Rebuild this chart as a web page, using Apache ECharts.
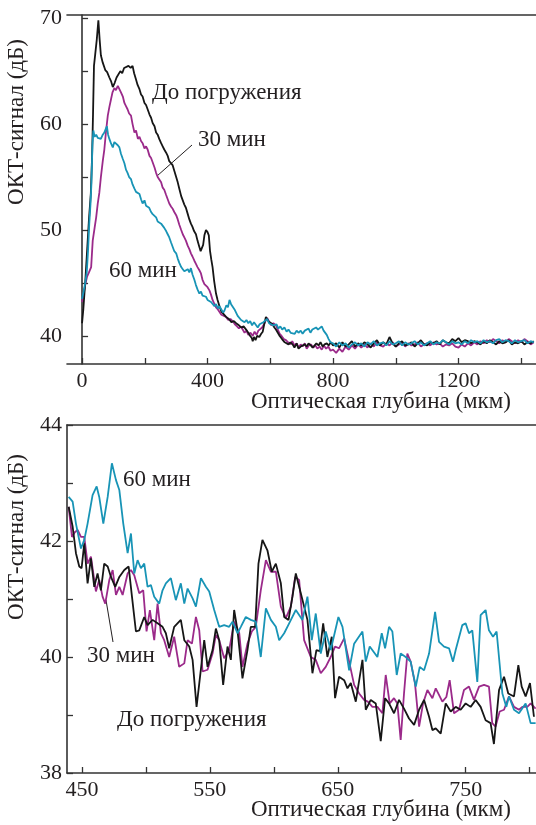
<!DOCTYPE html>
<html>
<head>
<meta charset="utf-8">
<script src="https://cdn.jsdelivr.net/npm/echarts@6/dist/echarts.min.js"></script>
<style>
  html, body { margin: 0; padding: 0; background: #fff; }
  #chart { width: 536px; height: 825px; }
</style>
</head>
<body>
<div id="chart"></div>
<script>
// --- top panel: full depth profile, [depth µm, dB] ---
const topBlackHead = [[0,41.2],[4,42.5],[10,45],[16,48],[22,51],[28,53.5],[32,57],[35,61],[38,65.5],[42,66.6],[47,68],[52,69.8],[56,68],[60,66.5],[66,65.8],[74,65.1],[80,64.9],[87,64.4],[93,64.0],[98,63.5],[104,63.9],[110,64.4],[116,64.5],[122,65.0],[128,64.8],[134,65.3],[140,65.2],[148,65.5],[155,65.3],[161,65.5],[166,64.8],[172,64.2],[177,63.7],[183,63.3],[188,62.8],[193,62.6],[199,62.0],[204,61.8],[209,61.4],[215,60.9],[220,60.6],[225,60.1],[231,59.8],[236,59.2],[241,59.0],[246,58.6],[252,58.2],[257,57.9],[262,57.6],[268,57.3],[273,57.0],[278,56.5],[284,56.3],[289,56.1],[294,55.6],[300,55.0],[305,54.5],[310,53.9],[316,53.2],[321,52.8],[326,52.4],[331,52.1],[337,51.5],[342,51.0],[347,50.6],[352,50.3],[357,49.9],[363,49.6],[368,49.0],[373,48.5],[378,48.0],[382,47.9],[386,48.6],[390,49.5],[395,50.0],[400,49.8],[404,49.5],[408,48.0],[412,47.2],[416,46.5],[421,45.2],[427,44.0],[432,43.4],[438,42.8],[444,42.3],[450,42.1],[459,41.8],[468,41.6],[476,41.3],[484,41.4],[491,41.2],[500,41.0],[507,40.8],[515,40.9],[523,40.6],[530,40.3],[536,40.0],[541,39.8],[544,39.5],[548,39.9],[553,39.6],[558,40.0],[565,39.9],[571,40.2],[576,40.4],[580,41.0],[586,41.8],[590,41.9],[594,41.4],[600,41.5],[607,41.1],[613,40.8],[618,40.6],[624,40.3],[630,40.0],[635,39.8],[640,39.6],[646,39.4],[652,39.5],[658,39.2],[664,39.4],[671,39.2],[677,38.9],[684,39.3],[690,38.8],[697,39.0],[703,38.9],[710,39.2],[716,39.0],[722,39.3],[729,39.1],[735,38.9],[741,39.0],[747,39.3],[754,39.1],[760,39.4],[767,39.0],[773,39.2],[780,39.3],[786,39.1],[793,39.4]];
const topPurpleHead = [[0,43.2],[5,44.0],[10,44.8],[16,45.6],[22,46.0],[29,46.5],[34,49.0],[40,50.2],[45,51.2],[50,52.5],[55,53.5],[60,55.0],[66,56.5],[71,57.6],[76,59.2],[82,60.8],[87,61.6],[92,62.3],[97,63.0],[103,63.4],[108,63.2],[114,63.6],[119,63.5],[124,63.0],[130,62.6],[135,62.0],[140,61.7],[145,61.4],[150,61.0],[156,60.8],[161,60.0],[167,59.2],[172,59.4],[178,58.6],[183,58.8],[188,58.4],[193,58.2],[199,57.7],[204,57.9],[209,57.6],[215,57.0],[220,56.8],[225,56.4],[231,55.9],[236,55.4],[241,55.0],[246,54.9],[252,54.5],[257,54.0],[262,53.8],[268,53.3],[273,52.9],[278,52.5],[284,52.2],[289,52.0],[294,51.7],[300,51.4],[305,51.0],[310,50.5],[316,50.0],[321,49.6],[326,49.3],[331,49.0],[337,48.5],[342,48.2],[347,47.8],[352,47.5],[358,47.1],[363,46.8],[368,46.5],[374,46.2],[379,45.9],[384,45.3],[390,44.9],[395,44.8],[400,44.6],[406,44.3],[411,43.9],[416,43.4],[422,43.0],[427,42.7],[433,42.5],[438,42.4],[444,42.0],[450,41.9],[459,41.8],[466,41.5],[473,41.6],[480,41.4],[487,41.1],[494,40.9],[500,40.7],[506,40.9],[512,40.6],[518,40.3],[524,40.5],[530,40.1],[537,40.3],[544,40.0],[550,40.4],[556,40.1],[562,40.5],[568,40.6],[574,40.8],[580,41.1],[586,41.5],[590,41.7],[597,41.3],[603,41.0],[610,41.2],[618,41.0],[624,40.6],[630,40.2],[636,40.0],[643,39.7],[650,39.6],[657,39.4],[664,39.2],[670,39.5],[677,39.1],[684,39.3],[690,38.9],[697,39.2],[703,39.0],[710,39.3],[716,38.8],[723,39.1],[730,39.2],[737,38.9],[744,39.1],[750,38.8],[757,39.0],[764,38.7],[771,39.1],[778,38.8],[785,39.0],[792,38.6]];
const topTealHead = [[0,43.5],[5,44.2],[10,45.0],[15,46.0],[19,48.0],[23,50.6],[27,52.5],[30,54.5],[33,58.0],[36,59.4],[40,58.8],[45,59.0],[50,58.7],[55,58.8],[60,58.6],[66,59.0],[71,59.2],[75,59.5],[79,59.8],[83,59.0],[87,58.6],[92,58.2],[98,57.8],[103,58.3],[108,58.4],[114,58.0],[119,57.8],[124,57.2],[130,56.7],[135,56.3],[140,55.7],[145,55.4],[150,55.0],[156,54.8],[161,54.3],[167,53.9],[172,53.6],[177,53.5],[183,53.4],[188,52.9],[193,52.5],[199,52.8],[204,52.3],[209,52.2],[214,52.1],[220,51.7],[225,51.5],[231,51.4],[236,51.2],[241,50.8],[246,50.9],[252,50.6],[257,50.6],[262,50.2],[268,49.9],[273,49.6],[278,49.3],[284,48.8],[289,48.4],[294,48.0],[300,47.8],[305,47.3],[310,46.9],[316,46.5],[321,46.3],[326,46.1],[331,46.0],[337,46.3],[342,46.0],[347,46.4],[352,45.8],[358,45.3],[363,44.8],[368,44.4],[374,44.0],[379,44.2],[384,43.8],[390,43.9],[395,43.7],[400,43.4],[406,43.5],[411,43.2],[416,43.1],[422,42.8],[427,43.0],[433,42.6],[438,42.8],[444,42.5],[450,42.2],[454,42.4],[460,42.9],[465,42.7],[470,43.4],[475,43.0],[480,42.9],[486,42.5],[491,42.2],[496,41.9],[501,41.8],[507,41.5],[512,41.6],[518,41.3],[524,41.5],[530,41.2],[536,41.4],[542,41.0],[548,41.3],[554,41.2],[560,40.8],[566,41.1],[572,41.0],[578,41.3],[584,41.4],[590,41.6],[596,41.2],[602,41.3],[608,41.0],[614,40.9],[620,41.1],[626,40.7],[632,40.9],[638,40.6],[645,40.8],[652,40.4],[658,40.6],[665,40.3],[671,40.4],[678,40.2],[684,40.5],[690,40.3],[697,40.5],[703,40.2],[710,40.5],[716,40.4],[722,40.7],[728,40.3],[734,40.6],[740,40.5],[746,40.8],[752,40.6],[758,40.7],[764,40.9],[770,40.5],[776,40.6],[780,40.1],[786,39.7],[792,39.4]];

// deep tail of the top panel, sampled on a shared depth list
const tailDepth = [800,810,820,830,840,850,860,870,880,890,900,910,920,930,940,950,960,970,980,990,1000,1010,1020,1030,1040,1050,1060,1070,1080,1090,1100,1110,1120,1130,1140,1150,1160,1170,1180,1190,1200,1210,1220,1230,1240,1250,1260,1270,1280,1290,1300,1310,1320,1330,1340,1350,1360,1370,1380,1390,1400,1410,1420,1430,1440];
const blackTail = [39.1,39.3,38.9,39.4,39.0,39.2,39.5,39.0,39.3,39.1, 39.4,39.2,38.9,39.3,39.6,39.1,39.4,39.2,39.9,39.3, 39.0,39.3,39.5,39.1,39.2,39.4,39.0,39.3,39.6,39.2, 39.1,39.4,39.3,39.5,39.2,39.6,39.4,39.3,39.7,39.5, 39.8,39.4,39.6,39.5,39.3,39.5,39.4,39.2,39.5,39.3, 39.6,39.4,39.2,39.5,39.3,39.4,39.6,39.2,39.4,39.3, 39.5,39.2,39.4,39.3,39.5];
const purpleTail = [38.7,38.4,38.8,38.5,39.0,38.7,39.1,38.8,39.2,38.9, 39.2,38.9,39.3,39.0,39.4,39.1,39.0,39.3,39.1,39.4, 39.0,39.2,39.4,39.0,39.3,39.1,39.2,39.4,39.0,39.2, 39.3,39.1,39.4,39.2,39.3,39.0,39.2,39.1,39.3,39.0, 38.9,39.2,39.0,39.3,39.1,39.4,39.2,39.5,39.3,39.6, 39.4,39.7,39.5,39.3,39.6,39.4,39.7,39.5,39.3,39.6, 39.4,39.7,39.5,39.2,39.4];
const tealTail = [39.3,39.0,39.4,39.1,39.3,38.9,39.2,39.4,39.1,39.3, 39.0,39.4,39.2,39.5,39.1,39.3,39.4,39.1,39.5,39.2, 39.3,39.5,39.1,39.4,39.2,39.3,39.5,39.2,39.4,39.1, 39.3,39.5,39.2,39.4,39.3,39.6,39.4,39.2,39.5,39.3, 39.4,39.2,39.5,39.3,39.6,39.4,39.5,39.3,39.6,39.4, 39.5,39.3,39.6,39.7,39.4,39.6,39.5,39.3,39.6,39.4, 39.5,39.6,39.3,39.5,39.4];

// --- bottom panel: 440–805 µm detail ---
const lowBlack = [[439.6,42.59],[442.7,42.25],[445.3,41.79],[447.9,41.56],[449.7,41.53],[451.8,41.96],[454.4,41.27],[457.0,41.70],[459.6,41.21],[462.2,41.44],[464.8,41.15],[467.4,41.61],[470.1,41.56],[472.7,41.38],[476.0,41.21],[479.2,41.38],[483.1,41.50],[486.5,41.56],[489.1,41.04],[492.2,40.44],[494.8,40.46],[498.7,40.69],[501.3,40.55],[505.2,40.64],[509.1,40.58],[513.0,40.52],[515.6,40.41],[518.2,40.15],[522.1,40.52],[524.7,40.58],[527.3,40.64],[530.0,40.29],[533.9,40.18],[536.5,39.95],[539.6,39.14],[541.7,39.54],[545.6,40.29],[548.2,39.83],[552.1,40.12],[554.7,40.49],[557.3,40.29],[560.4,39.52],[563.8,40.18],[566.4,39.95],[569.0,40.81],[571.6,40.46],[575.5,39.63],[579.4,40.12],[582.0,40.52],[585.4,40.52],[588.0,41.61],[591.1,42.02],[595.0,41.84],[598.4,41.47],[601.6,41.61],[605.5,41.27],[608.1,40.69],[611.5,40.64],[614.6,41.04],[617.2,41.44],[621.1,41.10],[626.3,40.64],[630.2,39.72],[633.3,40.12],[636.0,40.10],[638.6,40.58],[641.9,40.0],[645.3,40.35],[647.9,39.29],[651.0,39.66],[655.0,39.60],[657.6,39.46],[660.2,39.55],[664.1,39.23],[669.3,39.95],[671.9,39.09],[675.8,39.26],[679.7,39.20],[683.6,38.55],[687.0,39.29],[690.1,39.20],[694.0,39.03],[697.9,39.26],[701.8,39.11],[705.7,38.94],[709.7,38.83],[713.6,39.09],[717.5,39.26],[721.4,38.97],[724.0,38.74],[726.6,38.77],[730.5,38.68],[734.4,39.20],[738.3,39.06],[742.2,39.14],[746.1,39.09],[750.0,39.20],[753.9,39.14],[757.8,39.26],[761.7,39.14],[765.6,38.91],[769.5,38.86],[772.1,38.50],[776.1,39.43],[780.0,39.66],[783.3,39.37],[787.8,39.32],[791.2,39.86],[793.8,39.49],[796.9,39.32],[800.3,39.55],[803.4,38.97]];
const lowPurple = [[439.6,42.59],[442.2,42.07],[444.4,42.15],[446.6,42.19],[449.2,42.07],[451.8,42.07],[454.4,41.61],[457.0,41.73],[460.9,41.13],[463.5,41.33],[466.1,41.04],[468.2,40.92],[471.4,41.33],[474.0,41.50],[476.6,41.07],[479.2,41.21],[481.8,41.07],[485.7,41.44],[488.3,41.50],[490.9,41.41],[494.8,41.10],[497.9,41.15],[500.5,40.44],[503.1,40.81],[506.5,40.29],[509.1,40.92],[511.7,40.41],[514.3,40.29],[518.2,40.0],[522.1,40.35],[526.0,39.83],[530.0,39.89],[532.6,40.29],[536.0,40.23],[539.1,40.69],[541.7,40.46],[544.3,39.75],[548.2,39.78],[552.1,40.06],[554.7,40.38],[557.3,40.29],[561.2,39.98],[565.1,40.12],[569.0,40.61],[573.0,40.41],[575.5,39.83],[579.4,40.23],[582.8,40.44],[585.9,40.52],[589.8,41.15],[593.8,41.67],[597.7,41.47],[601.6,41.47],[605.5,40.87],[609.4,40.67],[613.3,40.87],[616.7,41.38],[619.8,41.33],[623.7,40.29],[628.9,40.0],[632.8,39.95],[636.7,39.72],[640.6,39.83],[644.5,40.0],[647.9,40.18],[651.0,40.15],[655.0,40.32],[658.9,39.92],[662.8,39.52],[666.7,39.37],[670.6,39.26],[673.5,39.23],[677.1,39.14],[681.0,39.14],[684.9,39.03],[687.5,39.69],[690.6,39.20],[694.0,39.29],[696.6,39.20],[699.2,38.57],[701.8,39.37],[704.4,40.06],[707.0,39.92],[710.4,39.54],[713.6,38.80],[716.7,39.20],[720.1,39.43],[724.0,39.29],[726.6,39.46],[731.8,39.23],[734.9,39.31],[737.5,39.60],[740.9,39.03],[744.8,39.09],[748.7,39.43],[752.6,39.49],[756.5,39.26],[760.5,39.49],[764.4,39.52],[768.2,39.49],[770.8,38.86],[773.4,38.80],[776.6,39.06],[780.0,39.09],[783.9,39.32],[787.8,39.14],[791.7,39.09],[794.3,39.14],[798.2,39.14],[800.8,39.20],[804.7,39.11]];
const lowTeal = [[439.6,42.76],[442.7,42.68],[445.3,42.30],[449.2,41.87],[451.8,42.02],[454.4,42.30],[458.3,42.79],[461.5,42.94],[463.5,42.76],[466.7,42.30],[470.1,42.76],[473.4,43.34],[476.6,43.05],[479.2,42.88],[482.3,42.30],[485.7,41.79],[488.3,42.13],[490.9,41.44],[493.5,41.67],[496.1,41.53],[498.7,41.61],[501.3,41.21],[503.9,41.24],[506.5,41.04],[510.4,40.92],[513.0,41.15],[515.6,41.27],[519.5,41.36],[523.4,40.98],[527.3,41.27],[530.0,40.92],[532.6,41.18],[536.5,41.01],[539.1,40.87],[543.0,41.36],[546.9,41.21],[549.5,41.13],[553.4,40.81],[557.3,40.52],[561.2,40.55],[565.1,40.52],[567.7,40.61],[571.6,40.41],[574.2,40.52],[578.1,40.69],[582.0,40.64],[585.9,40.61],[589.8,40.0],[593.8,40.84],[597.7,40.64],[601.6,40.52],[604.2,40.29],[608.1,40.41],[612.0,40.58],[617.2,40.81],[622.4,40.64],[626.3,41.04],[629.7,40.29],[632.8,40.75],[636.7,40.06],[640.6,40.44],[644.5,40.12],[650.5,40.69],[653.7,40.52],[658.9,39.77],[662.8,40.23],[669.3,40.44],[671.9,39.92],[675.0,40.18],[681.0,40.0],[684.4,40.41],[687.0,40.15],[690.1,40.52],[692.7,40.44],[696.1,39.69],[699.2,40.06],[703.1,40.0],[707.0,39.92],[711.0,39.49],[714.1,39.83],[717.5,39.77],[721.4,40.06],[726.1,40.78],[729.2,40.26],[733.1,40.18],[737.0,40.15],[740.1,39.92],[742.2,40.12],[747.4,40.55],[750.0,40.58],[752.6,40.41],[755.2,40.46],[759.1,39.57],[761.7,40.72],[765.6,40.81],[768.2,40.46],[771.4,40.35],[774.2,40.44],[778.7,39.37],[781.8,39.14],[783.9,39.32],[787.8,39.09],[791.7,39.03],[796.9,39.20],[800.8,38.86],[804.7,38.86]];

// ticks and labels
const topXTicks = [0, 200, 400, 600, 800, 1000, 1200, 1400];
const topXLabels = [0, 400, 800, 1200];
const topYTicks = [40, 45, 50, 55, 60, 65, 70];
const topYLabels = [40, 50, 60, 70];
const lowXTicks = [450, 500, 550, 600, 650, 700, 750, 800];
const lowXLabels = [450, 550, 650, 750];
const lowYTicks = [38, 39, 40, 41, 42, 43, 44];
const lowYLabels = [38, 40, 42, 44];

const FONT = '"Liberation Serif", "DejaVu Serif", serif';
const INK = '#231f20';
const TEXT_SIZE = 23;
const COLORS = { black: '#161616', purple: '#9b2a8a', teal: '#1894b6' };

function withTail(head, tail) {
    return head.concat(tailDepth.map((d, i) => [d, tail[i]]));
}

function xAxisFor(grid, min, max, ticks, labels) {
    return [
        {
            gridIndex: grid, type: 'value', min, max,
            axisLine: { lineStyle: { color: '#333', width: 1.6 } },
            axisTick: { inside: true, length: 6, customValues: ticks, lineStyle: { color: '#333', width: 1.3 } },
            axisLabel: { customValues: labels, margin: 6, color: INK, fontFamily: FONT, fontSize: 22, formatter: v => String(v) },
            splitLine: { show: false }
        },
        {
            gridIndex: grid, type: 'value', min, max, position: 'top',
            axisLine: { lineStyle: { color: '#333', width: 1.6 } },
            axisTick: { show: false }, axisLabel: { show: false }, splitLine: { show: false }
        }
    ];
}

function yAxisFor(grid, min, max, ticks, labels) {
    return {
        gridIndex: grid, type: 'value', min, max,
        axisLine: { show: true, lineStyle: { color: '#333', width: 1.6 } },
        axisTick: { show: true, inside: true, length: 6, customValues: ticks, lineStyle: { color: '#333', width: 1.3 } },
        axisLabel: { customValues: labels, margin: 5, color: INK, fontFamily: FONT, fontSize: 22, formatter: v => String(v) },
        splitLine: { show: false }
    };
}

function line(name, data, color, xi, yi) {
    return {
        name, type: 'line', data, xAxisIndex: xi, yAxisIndex: yi,
        showSymbol: false, symbol: 'none', clip: true,
        lineStyle: { color, width: 1.8 }
    };
}

function label(text, x, y, rotation) {
    return {
        type: 'text', x, y, rotation: rotation || 0,
        style: { text, fill: INK, font: TEXT_SIZE + 'px ' + FONT, textAlign: rotation ? 'center' : 'left', textVerticalAlign: 'middle' }
    };
}

function axisName(text, y) {
    return {
        type: 'text', x: 511, y,
        style: { text, fill: INK, font: TEXT_SIZE + 'px ' + FONT, textAlign: 'right', textVerticalAlign: 'middle' }
    };
}

function leader(x1, y1, x2, y2) {
    return { type: 'line', shape: { x1, y1, x2, y2 }, style: { stroke: INK, lineWidth: 1 } };
}

const chart = echarts.init(document.getElementById('chart'), null, { renderer: 'canvas' });
chart.setOption({
    animation: false,
    backgroundColor: '#fff',
    grid: [
        { left: 67, top: 15, width: 469, height: 349 },
        { left: 67, top: 425, width: 469, height: 348 }
    ],
    xAxis: [
        ...xAxisFor(0, -48, 1447, topXTicks, topXLabels),
        ...xAxisFor(1, 438.3, 805, lowXTicks, lowXLabels)
    ],
    yAxis: [
        yAxisFor(0, 37.35, 70.3, topYTicks, topYLabels),
        yAxisFor(1, 38, 44, lowYTicks, lowYLabels)
    ],
    series: [
        line('30 мин', withTail(topPurpleHead, purpleTail), COLORS.purple, 0, 0),
        line('До погружения', withTail(topBlackHead, blackTail), COLORS.black, 0, 0),
        line('60 мин', withTail(topTealHead, tealTail), COLORS.teal, 0, 0),
        line('30 мин', lowPurple, COLORS.purple, 2, 1),
        line('До погружения', lowBlack, COLORS.black, 2, 1),
        line('60 мин', lowTeal, COLORS.teal, 2, 1)
    ],
    graphic: [
        label('ОКТ-сигнал (дБ)', 17, 122, Math.PI / 2),
        label('ОКТ-сигнал (дБ)', 17, 537, Math.PI / 2),
        axisName('Оптическая глубина (мкм)', 402),
        axisName('Оптическая глубина (мкм)', 810),
        label('До погружения', 152, 93),
        label('30 мин', 198, 140),
        leader(192, 145, 157, 176),
        label('60 мин', 109, 271),
        label('60 мин', 123, 480),
        label('30 мин', 87, 656),
        leader(106, 600, 113, 642),
        label('До погружения', 117, 720)
    ]
});
</script>
</body>
</html>
